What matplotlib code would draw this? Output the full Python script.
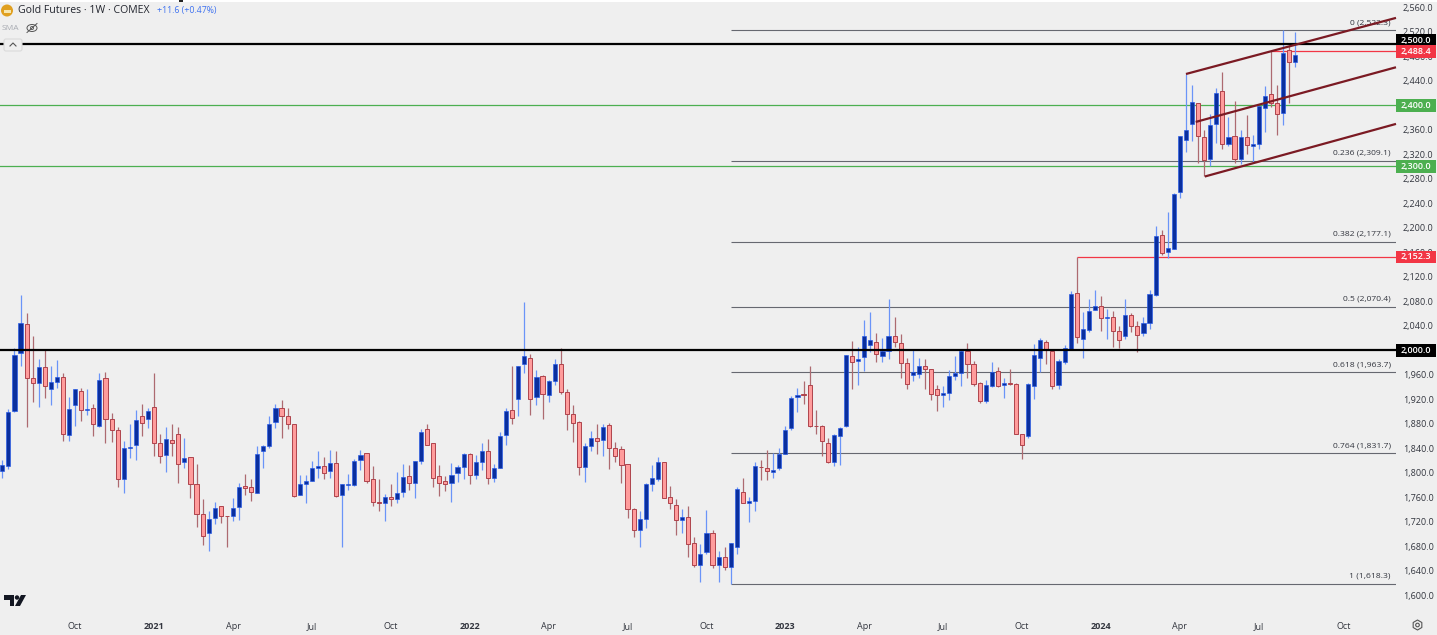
import numpy as np
import matplotlib
matplotlib.use('Agg')
import matplotlib.pyplot as plt
from matplotlib.patches import Circle, Rectangle, FancyBboxPatch, Polygon, Ellipse, RegularPolygon

plt.rcParams['font.family'] = ['Open Sans', 'DejaVu Sans']

# weekly candles, oldest first (u = up week, d = down week), ten weeks a row
candle_dirs = ("uuuudduduu"
               "duudududdd"
               "uuududdudd"
               "uddduudduu"
               "dduuuudddu"
               "uuududuuuu"
               "ddduduuduu"
               "dddduuuduu"
               "duuuduudud"
               "uudddduudu"
               "ddddduuuud"
               "ddudduudud"
               "uuduudduuu"
               "uuddddduuu"
               "duuuduuddd"
               "uuddduuuud"
               "dduududddu"
               "uudduuuduu"
               "ududdudduu"
               "uduuuuuddu"
               "udududuuud"
               "dudu")

body_top = [1812, 1899, 1993, 2045, 2043, 1955, 1972, 1973, 1948, 1957,
            1956, 1904, 1936, 1934, 1904, 1905, 1951, 1955, 1887, 1869,
            1841, 1842, 1886, 1892, 1901, 1907, 1848, 1855, 1854, 1864,
            1824, 1825, 1781, 1732, 1725, 1743, 1745, 1730, 1743, 1776,
            1778, 1776, 1831, 1844, 1880, 1906, 1906, 1893, 1879, 1781,
            1787, 1808, 1811, 1811, 1816, 1816, 1781, 1782, 1819, 1829,
            1833, 1789, 1753, 1760, 1761, 1767, 1793, 1794, 1819, 1867,
            1872, 1848, 1794, 1787, 1797, 1809, 1830, 1830, 1817, 1836,
            1835, 1808, 1860, 1900, 1903, 1974, 1991, 1988, 1956, 1958,
            1950, 1977, 1978, 1931, 1896, 1883, 1844, 1856, 1857, 1875,
            1878, 1840, 1839, 1814, 1741, 1725, 1782, 1791, 1818, 1818,
            1760, 1748, 1727, 1728, 1685, 1668, 1701, 1702, 1662, 1662,
            1685, 1773, 1769, 1754, 1811, 1810, 1808, 1805, 1831, 1870,
            1922, 1927, 1928, 1943, 1877, 1876, 1849, 1862, 1873, 1992,
            1990, 1986, 2023, 2017, 2014, 1999, 2024, 2023, 2012, 1979,
            1964, 1975, 1975, 1970, 1936, 1930, 1958, 1962, 1999, 1998,
            1977, 1946, 1943, 1965, 1966, 1946, 1946, 1945, 1863, 1945,
            1993, 2016, 2013, 1999, 1983, 2003, 2091, 2094, 2034, 2064,
            2072, 2072, 2055, 2054, 2031, 2057, 2058, 2039, 2045, 2091,
            2187, 2188, 2167, 2255, 2349, 2360, 2406, 2404, 2348, 2367,
            2420, 2423, 2348, 2349, 2348, 2348, 2337, 2399, 2415, 2419,
            2404, 2486, 2490, 2482]

body_bot = [1803, 1811, 1900, 1996, 1954, 1947, 1947, 1941, 1937, 1948,
            1863, 1862, 1911, 1903, 1903, 1879, 1876, 1888, 1869, 1790,
            1790, 1840, 1845, 1881, 1887, 1849, 1827, 1829, 1849, 1815,
            1817, 1782, 1733, 1697, 1701, 1726, 1730, 1729, 1729, 1744,
            1775, 1768, 1767, 1835, 1844, 1883, 1893, 1879, 1762, 1763,
            1781, 1787, 1807, 1800, 1802, 1762, 1764, 1780, 1780, 1820,
            1787, 1753, 1750, 1751, 1757, 1757, 1768, 1784, 1784, 1819,
            1846, 1792, 1783, 1782, 1783, 1800, 1809, 1796, 1796, 1818,
            1792, 1792, 1808, 1861, 1890, 1920, 1978, 1921, 1923, 1928,
            1927, 1949, 1931, 1896, 1881, 1810, 1809, 1844, 1852, 1853,
            1841, 1827, 1812, 1740, 1706, 1706, 1725, 1782, 1789, 1759,
            1750, 1722, 1723, 1684, 1650, 1650, 1670, 1650, 1649, 1646,
            1646, 1678, 1751, 1751, 1754, 1809, 1802, 1801, 1807, 1831,
            1873, 1924, 1927, 1876, 1876, 1851, 1817, 1817, 1860, 1876,
            1980, 1982, 1989, 2008, 1994, 1991, 1999, 2014, 1979, 1945,
            1960, 1961, 1970, 1929, 1927, 1927, 1930, 1958, 1963, 1978,
            1945, 1917, 1917, 1942, 1942, 1943, 1945, 1864, 1846, 1860,
            1941, 1987, 2000, 1942, 1943, 1980, 2002, 2021, 2019, 2033,
            2066, 2052, 2053, 2031, 2017, 2024, 2039, 2025, 2028, 2044,
            2090, 2158, 2160, 2166, 2259, 2344, 2369, 2349, 2310, 2312,
            2369, 2336, 2337, 2312, 2312, 2335, 2333, 2336, 2396, 2403,
            2385, 2387, 2471, 2470]

highs = [1820, 1904, 2004, 2090, 2060, 2024, 1986, 2000, 1974, 1984,
         1963, 1924, 1936, 1939, 1936, 1913, 1962, 1965, 1897, 1875,
         1852, 1880, 1902, 1913, 1905, 1962, 1864, 1874, 1879, 1875,
         1857, 1826, 1815, 1757, 1738, 1753, 1745, 1730, 1759, 1784,
         1798, 1789, 1844, 1846, 1892, 1913, 1919, 1906, 1880, 1796,
         1796, 1819, 1835, 1826, 1837, 1836, 1781, 1798, 1823, 1837,
         1833, 1811, 1789, 1765, 1781, 1801, 1815, 1812, 1819, 1871,
         1879, 1849, 1812, 1794, 1816, 1812, 1832, 1832, 1829, 1849,
         1855, 1815, 1867, 1905, 1975, 1974, 2079, 1994, 1967, 1959,
         1951, 1985, 2003, 1936, 1910, 1885, 1848, 1868, 1879, 1879,
         1881, 1850, 1843, 1815, 1743, 1738, 1784, 1812, 1825, 1818,
         1778, 1757, 1740, 1746, 1695, 1684, 1739, 1706, 1673, 1679,
         1685, 1777, 1792, 1760, 1818, 1821, 1837, 1833, 1841, 1876,
         1925, 1939, 1949, 1975, 1902, 1878, 1856, 1864, 1875, 1992,
         2015, 2005, 2049, 2063, 2028, 2020, 2084, 2055, 2027, 1988,
         2000, 1987, 1985, 1970, 1944, 1942, 1967, 1990, 2001, 2011,
         1982, 1948, 1951, 1980, 1973, 1954, 1969, 1947, 1863, 1947,
         2010, 2020, 2017, 1999, 1985, 2008, 2096, 2152, 2063, 2083,
         2099, 2089, 2068, 2064, 2040, 2084, 2061, 2048, 2055, 2098,
         2203, 2196, 2225, 2257, 2349, 2451, 2433, 2404, 2359, 2386,
         2428, 2454, 2381, 2407, 2360, 2384, 2351, 2399, 2431, 2489,
         2433, 2523, 2498, 2520]

lows = [1791, 1806, 1899, 1975, 1875, 1916, 1907, 1922, 1911, 1938,
        1851, 1851, 1876, 1885, 1894, 1860, 1874, 1848, 1850, 1776,
        1767, 1824, 1820, 1860, 1873, 1828, 1816, 1801, 1828, 1784,
        1807, 1758, 1712, 1682, 1673, 1717, 1718, 1678, 1721, 1722,
        1763, 1754, 1767, 1808, 1841, 1873, 1856, 1872, 1760, 1763,
        1750, 1787, 1791, 1789, 1791, 1760, 1678, 1771, 1778, 1804,
        1784, 1746, 1738, 1721, 1745, 1750, 1760, 1772, 1759, 1814,
        1845, 1777, 1762, 1770, 1753, 1785, 1789, 1781, 1789, 1804,
        1781, 1785, 1808, 1845, 1879, 1892, 1962, 1895, 1911, 1888,
        1916, 1943, 1928, 1870, 1850, 1797, 1785, 1836, 1830, 1827,
        1806, 1818, 1783, 1726, 1695, 1678, 1709, 1770, 1787, 1759,
        1740, 1699, 1702, 1663, 1646, 1622, 1668, 1645, 1621, 1641,
        1618, 1667, 1750, 1720, 1738, 1788, 1788, 1792, 1804, 1831,
        1869, 1899, 1912, 1875, 1864, 1828, 1816, 1811, 1813, 1875,
        1937, 1944, 1966, 1997, 1980, 1981, 1986, 2006, 1954, 1936,
        1949, 1954, 1936, 1919, 1901, 1907, 1918, 1951, 1941, 1954,
        1942, 1914, 1914, 1940, 1940, 1922, 1944, 1863, 1822, 1857,
        1921, 1964, 1978, 1937, 1936, 1978, 2002, 2011, 1988, 2030,
        2066, 2031, 2018, 2005, 2004, 2019, 2030, 1997, 2024, 2034,
        2089, 2156, 2151, 2166, 2249, 2323, 2341, 2305, 2285, 2301,
        2339, 2328, 2333, 2305, 2304, 2320, 2305, 2328, 2357, 2397,
        2352, 2368, 2404, 2463]

price_ticks = list(range(1600, 2600, 40))

tick_weeks = [12, 25, 38, 51, 64, 77, 90, 103, 116, 129, 142, 155, 168, 181, 194, 207, 221]
tick_labels = ['Oct', '2021', 'Apr', 'Jul', 'Oct', '2022', 'Apr', 'Jul', 'Oct',
               '2023', 'Apr', 'Jul', 'Oct', '2024', 'Apr', 'Jul', 'Oct']

fib_ratios = ['0', '0.236', '0.382', '0.5', '0.618', '0.764', '1']
fib_prices = [2522.3, 2309.1, 2177.1, 2070.4, 1963.7, 1831.7, 1618.3]

black_levels = [2500, 2000]
green_levels = [2400, 2300]
red_levels = [2488.4, 2152.3]
red_start_weeks = [209, 177]

channel_starts = [195, 196.6, 198.1]
channel_start_prices = [2451, 2372.7, 2283.6]
channel_end_prices = [2542.6, 2462, 2369.5]

BG = '#EFEFEF'
TEXT = '#33363F'
BLUE_BODY, BLUE_EDGE, BLUE_WICK = '#0A2F9E', '#2358E8', '#6A94F8'
RED_BODY, RED_EDGE, RED_WICK = '#FF9C9C', '#AE434C', '#AD6A70'
GREEN = '#4CAF50'
RED = '#F23645'
CHANNEL = '#7B1A23'

W, H = 1437, 635
fig = plt.figure(figsize=(W / 100, H / 100), dpi=100, facecolor=BG)
ax = fig.add_axes([0, 23 / H, 1396 / W, 612 / H], facecolor=BG)

weeks = np.arange(len(body_top))
is_up = np.array([c == 'u' for c in candle_dirs])
body_top = np.array(body_top)
body_bot = np.array(body_bot)

ax.vlines(weeks[is_up], np.array(lows)[is_up], np.array(highs)[is_up],
          color=BLUE_WICK, lw=0.9, zorder=3)
ax.vlines(weeks[~is_up], np.array(lows)[~is_up], np.array(highs)[~is_up],
          color=RED_WICK, lw=0.9, zorder=3)
ax.bar(weeks[is_up], (body_top - body_bot)[is_up], bottom=body_bot[is_up], width=0.68,
       color=BLUE_BODY, edgecolor=BLUE_EDGE, linewidth=0.45, zorder=4)
ax.bar(weeks[~is_up], (body_top - body_bot)[~is_up], bottom=body_bot[~is_up], width=0.68,
       color=RED_BODY, edgecolor=RED_EDGE, linewidth=0.7, zorder=4)

x_left, x_right = -0.38, 229.6
ax.set_xlim(x_left, x_right)
ax.set_ylim(1572.6, 2571.8)

# levels
for p in green_levels:
    ax.axhline(p, color=GREEN, lw=0.9, zorder=2)
for p in black_levels:
    ax.axhline(p, color='black', lw=1.6, zorder=5)
for p, w in zip(red_levels, red_start_weeks):
    ax.hlines(p, w, x_right, color=RED, lw=0.9, zorder=2)

# fibonacci retracement
for ratio, p in zip(fib_ratios, fib_prices):
    ax.hlines(p, 120, x_right, color='#666870', lw=0.8, zorder=2)
    ax.annotate('%s (%s)' % (ratio, format(p, ',.1f')), xy=(228.7, p), xytext=(0, 3),
                textcoords='offset points', ha='right', va='bottom',
                fontsize=6.1, color=TEXT, zorder=2)

# channel
for x0, y0, y1 in zip(channel_starts, channel_start_prices, channel_end_prices):
    ax.plot([x0, x_right], [y0, y1], color=CHANNEL, lw=1.6, zorder=6,
            solid_capstyle='butt', clip_on=False)

# axes
for s in ax.spines.values():
    s.set_visible(False)
ax.yaxis.tick_right()
ax.set_yticks(price_ticks)
ax.set_yticklabels([format(p, ',.1f') for p in price_ticks], fontsize=6.5, color=TEXT)
ax.set_xticks(tick_weeks)
ax.set_xticklabels(tick_labels, fontsize=6.5, color=TEXT)
ax.tick_params(axis='both', length=0)
ax.tick_params(axis='y', pad=5)
ax.tick_params(axis='x', pad=7)
for lab in ax.get_xticklabels():
    if lab.get_text().isdigit():
        lab.set_fontweight('bold')
ax.text(-1, -13 / 612, 'Jul', transform=ax.get_xaxis_transform(), ha='center', va='center',
        fontsize=6.5, color=TEXT, clip_on=False)

# price tags on the scale, the 2,500 one pushed up clear of the 2,488.4 one
tag_prices = black_levels + green_levels + red_levels
tag_colors = ['black', 'black', GREEN, GREEN, RED, RED]
tag_lift = [6, 0, 0, 0, 0, 0]
for p, c, lift in zip(tag_prices, tag_colors, tag_lift):
    ax.add_patch(Rectangle((1.0, p + lift - 10.5), 40 / 1396, 21, transform=ax.get_yaxis_transform(),
                           facecolor=c, edgecolor='none', clip_on=False, zorder=7))
    ax.text(1 + 20 / 1396, p + lift, format(p, ',.1f'), transform=ax.get_yaxis_transform(),
            ha='center', va='center', fontsize=6.5, color='white', fontweight='semibold', zorder=8)

# header and small chart furniture, in pixels
ov = fig.add_axes([0, 0, 1, 1], facecolor='none')
ov.set_xlim(0, W)
ov.set_ylim(H, 0)
ov.axis('off')

ov.add_patch(Rectangle((0, 0), W, 1.5, facecolor='white', edgecolor='none'))
ov.add_patch(Rectangle((179, 0), 4, 1.5, facecolor='#222222', edgecolor='none'))
ov.add_patch(Circle((7, 10.5), 6, facecolor='#E0A020', edgecolor='none'))
ov.add_patch(Rectangle((3.5, 10), 7, 3, facecolor='#F7E7B0', edgecolor='none'))
ov.text(18, 10.5, 'Gold Futures · 1W · COMEX', fontsize=7.6, color='#22252E', va='center')
ov.text(157, 10.5, '+11.6 (+0.47%)', fontsize=6.3, color='#3F72F0', va='center')
ov.text(2, 28, 'SMA', fontsize=6, color='#A8ABB2', va='center')
ov.add_patch(Ellipse((32, 28), 10, 7, facecolor='none', edgecolor='#555555', lw=0.7))
ov.add_patch(Circle((32, 28), 1.6, facecolor='none', edgecolor='#555555', lw=0.6))
ov.plot([27, 37], [32.5, 23.5], color='#555555', lw=0.7)
ov.add_patch(FancyBboxPatch((4, 39), 18, 12, boxstyle='round,pad=0,rounding_size=2',
                            facecolor=BG, edgecolor='#DADADA', lw=0.8, zorder=6))
ov.plot([10, 13, 16], [46, 43, 46], color='#555555', lw=0.8, zorder=7)

# tradingview logo
ov.add_patch(Polygon([(4, 595), (14, 595), (14, 606), (10, 606), (10, 600), (4, 600)],
                     facecolor='#131722', edgecolor='none'))
ov.add_patch(Circle((17, 597.5), 2.2, facecolor='#131722', edgecolor='none'))
ov.add_patch(Polygon([(21, 595), (26, 595), (20, 606), (15, 606)],
                     facecolor='#131722', edgecolor='none'))

# settings icon
ov.add_patch(RegularPolygon((1417.5, 625), 6, radius=5, facecolor='none', edgecolor='#555555', lw=0.8))
ov.add_patch(Circle((1417.5, 625), 1.8, facecolor='none', edgecolor='#555555', lw=0.8))

fig.savefig('out.png', dpi=100, facecolor=BG)
